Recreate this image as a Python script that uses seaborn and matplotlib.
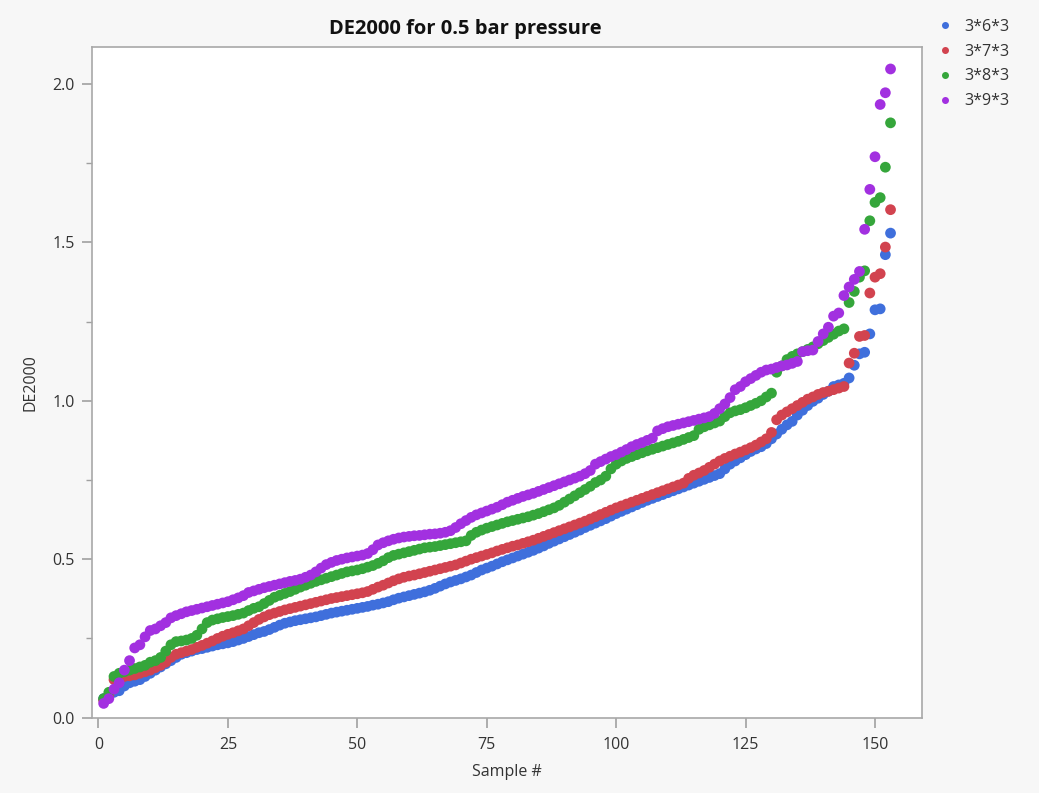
import numpy as np
import pandas as pd
import matplotlib
matplotlib.use("Agg")
import matplotlib.pyplot as plt
import seaborn as sns
from matplotlib.ticker import MultipleLocator

series_names = ["3*6*3", "3*7*3", "3*8*3", "3*9*3"]

de_363 = [0.06, 0.07, 0.08, 0.085, 0.10, 0.11, 0.115, 0.12, 0.13, 0.14,
          0.15, 0.16, 0.17, 0.18, 0.19, 0.20, 0.205, 0.21, 0.215, 0.218,
          0.222, 0.226, 0.23, 0.233, 0.236, 0.24, 0.245, 0.25, 0.256, 0.262,
          0.268, 0.272, 0.278, 0.285, 0.292, 0.298, 0.302, 0.306, 0.309, 0.312,
          0.315, 0.318, 0.322, 0.326, 0.33, 0.333, 0.336, 0.339, 0.342, 0.345,
          0.348, 0.351, 0.355, 0.358, 0.362, 0.366, 0.372, 0.377, 0.381, 0.385,
          0.389, 0.393, 0.397, 0.402, 0.408, 0.415, 0.422, 0.428, 0.433, 0.438,
          0.444, 0.45, 0.458, 0.466, 0.472, 0.478, 0.485, 0.492, 0.498, 0.504,
          0.51, 0.516, 0.522, 0.528, 0.535, 0.542, 0.55, 0.557, 0.564, 0.571,
          0.578, 0.585, 0.592, 0.60, 0.607, 0.614, 0.621, 0.628, 0.636, 0.644,
          0.651, 0.658, 0.665, 0.672, 0.679, 0.686, 0.692, 0.698, 0.704, 0.71,
          0.716, 0.722, 0.728, 0.734, 0.74, 0.746, 0.752, 0.758, 0.764, 0.77,
          0.785, 0.80, 0.81, 0.82, 0.83, 0.84, 0.848, 0.855, 0.865, 0.88,
          0.895, 0.91, 0.924, 0.935, 0.955, 0.97, 0.985, 0.998, 1.008, 1.02,
          1.03, 1.045, 1.05, 1.055, 1.072, 1.112, 1.148, 1.153, 1.211, 1.287,
          1.29, 1.461, 1.529]

de_373 = [0.055, 0.07, 0.12, 0.125, 0.13, 0.132, 0.135, 0.14, 0.145, 0.15,
          0.158, 0.165, 0.175, 0.19, 0.20, 0.205, 0.21, 0.215, 0.222, 0.228,
          0.235, 0.242, 0.25, 0.257, 0.263, 0.268, 0.274, 0.28, 0.29, 0.30,
          0.31, 0.318, 0.325, 0.33, 0.335, 0.34, 0.344, 0.348, 0.352, 0.356,
          0.36, 0.364, 0.368, 0.372, 0.376, 0.379, 0.382, 0.385, 0.388, 0.391,
          0.394, 0.398, 0.405, 0.412, 0.418, 0.425, 0.432, 0.438, 0.443, 0.447,
          0.45, 0.454, 0.458, 0.462, 0.466, 0.47, 0.474, 0.478, 0.482, 0.488,
          0.494, 0.50, 0.505, 0.51, 0.515, 0.52, 0.526, 0.531, 0.536, 0.541,
          0.545, 0.55, 0.555, 0.56, 0.566, 0.572, 0.578, 0.584, 0.59, 0.596,
          0.602, 0.608, 0.614, 0.62, 0.627, 0.634, 0.641, 0.648, 0.655, 0.662,
          0.668, 0.674, 0.68, 0.686, 0.692, 0.698, 0.704, 0.71, 0.716, 0.722,
          0.728, 0.734, 0.74, 0.755, 0.765, 0.772, 0.78, 0.79, 0.80, 0.81,
          0.818, 0.825, 0.832, 0.838, 0.845, 0.852, 0.86, 0.87, 0.88, 0.9,
          0.94, 0.955, 0.965, 0.975, 0.985, 0.995, 1.005, 1.012, 1.02, 1.026,
          1.03, 1.035, 1.04, 1.045, 1.119, 1.150, 1.203, 1.206, 1.340, 1.390,
          1.401, 1.485, 1.603]

de_383 = [0.06, 0.08, 0.13, 0.14, 0.145, 0.15, 0.155, 0.16, 0.165, 0.175,
          0.18, 0.19, 0.21, 0.23, 0.24, 0.242, 0.245, 0.25, 0.26, 0.28,
          0.30, 0.308, 0.312, 0.316, 0.319, 0.322, 0.326, 0.33, 0.338, 0.345,
          0.35, 0.36, 0.37, 0.38, 0.386, 0.392, 0.398, 0.405, 0.412, 0.418,
          0.424, 0.43, 0.435, 0.44, 0.445, 0.45, 0.455, 0.46, 0.463, 0.466,
          0.47, 0.475, 0.48, 0.487, 0.495, 0.505, 0.512, 0.516, 0.52, 0.524,
          0.528, 0.532, 0.536, 0.538, 0.54, 0.543, 0.546, 0.549, 0.552, 0.555,
          0.558, 0.575, 0.585, 0.592, 0.598, 0.603, 0.608, 0.613, 0.618, 0.622,
          0.626, 0.63, 0.634, 0.639, 0.644, 0.65, 0.656, 0.662, 0.67, 0.68,
          0.69, 0.70, 0.71, 0.72, 0.73, 0.742, 0.75, 0.762, 0.785, 0.80,
          0.81, 0.818, 0.824, 0.83, 0.836, 0.842, 0.847, 0.852, 0.857, 0.862,
          0.867, 0.872, 0.878, 0.884, 0.89, 0.91, 0.918, 0.924, 0.93, 0.936,
          0.95, 0.962, 0.968, 0.972, 0.978, 0.985, 0.992, 1.0, 1.012, 1.024,
          1.09, 1.11, 1.13, 1.14, 1.148, 1.155, 1.162, 1.17, 1.18, 1.19,
          1.20, 1.21, 1.22, 1.227, 1.31, 1.345, 1.39, 1.41, 1.568, 1.626,
          1.641, 1.737, 1.877]

de_393 = [0.045, 0.06, 0.09, 0.11, 0.15, 0.18, 0.22, 0.23, 0.255, 0.275,
          0.28, 0.29, 0.30, 0.315, 0.322, 0.328, 0.334, 0.338, 0.342, 0.346,
          0.35, 0.354, 0.358, 0.362, 0.366, 0.372, 0.378, 0.385, 0.395, 0.40,
          0.405, 0.41, 0.414, 0.418, 0.422, 0.426, 0.43, 0.433, 0.437, 0.443,
          0.45, 0.46, 0.472, 0.483, 0.49, 0.496, 0.50, 0.504, 0.507, 0.51,
          0.513, 0.518, 0.53, 0.545, 0.552, 0.558, 0.563, 0.567, 0.57, 0.572,
          0.574, 0.575, 0.577, 0.579, 0.58, 0.582, 0.585, 0.59, 0.60, 0.612,
          0.622, 0.632, 0.64, 0.646, 0.652, 0.658, 0.664, 0.672, 0.68, 0.686,
          0.692, 0.698, 0.703, 0.708, 0.714, 0.72, 0.726, 0.732, 0.738, 0.744,
          0.75, 0.756, 0.762, 0.77, 0.78, 0.80, 0.808, 0.816, 0.824, 0.83,
          0.838, 0.846, 0.855, 0.862, 0.868, 0.875, 0.882, 0.905, 0.912, 0.918,
          0.922, 0.926, 0.93, 0.934, 0.938, 0.942, 0.946, 0.95, 0.96, 0.975,
          0.99, 1.01, 1.035, 1.045, 1.06, 1.07, 1.08, 1.09, 1.097, 1.10,
          1.105, 1.11, 1.113, 1.118, 1.124, 1.155, 1.158, 1.160, 1.187, 1.211,
          1.232, 1.267, 1.277, 1.332, 1.359, 1.383, 1.408, 1.541, 1.667, 1.770,
          1.935, 1.972, 2.047]

colors = ["#3f6fdc", "#d2434f", "#35a63b", "#a230e0"]

samples = list(range(1, len(de_363) + 1))
frames = []
for name, vals in zip(series_names, [de_363, de_373, de_383, de_393]):
    frames.append(pd.DataFrame({"Sample #": samples, "DE2000": vals, "Series": name}))
df = pd.concat(frames, ignore_index=True)

sns.set_theme(style="white")
plt.rcParams["font.family"] = ["Open Sans", "DejaVu Sans"]

fig = plt.figure(figsize=(10.39, 7.93), dpi=100, facecolor="#f7f7f7")
ax = fig.add_axes([0.0883, 0.095, 0.7987, 0.846])
ax.set_facecolor("white")

sns.scatterplot(data=df, x="Sample #", y="DE2000", hue="Series",
                hue_order=series_names, palette=colors, s=60,
                linewidth=0, alpha=1.0, ax=ax, zorder=3)

ax.set_xlim(-1.3, 159)
ax.set_ylim(0, 2.117)
ax.set_xticks([0, 25, 50, 75, 100, 125, 150])
ax.set_yticks([0.0, 0.5, 1.0, 1.5, 2.0])
ax.set_yticklabels(["0.0", "0.5", "1.0", "1.5", "2.0"])
ax.yaxis.set_minor_locator(MultipleLocator(0.25))
ax.tick_params(axis="both", which="major", direction="out", length=7,
               width=1.2, color="#a0a0a0", labelsize=11.5, labelcolor="#333333")
ax.tick_params(axis="y", which="minor", direction="out", length=4,
               width=1.0, color="#a0a0a0", left=True)
ax.tick_params(axis="x", which="major", bottom=True, pad=7)
ax.tick_params(axis="y", which="major", left=True, pad=5)
for sp in ax.spines.values():
    sp.set_color("#a8a8a8")
    sp.set_linewidth(1.2)

ax.set_xlabel("Sample #", fontsize=11.5, color="#333333", labelpad=8)
ax.set_ylabel("DE2000", fontsize=11.5, color="#333333", labelpad=10)
ax.set_title("DE2000 for 0.5 bar pressure", fontsize=14.5, fontweight="bold",
             color="#111111", pad=9, x=0.45)

sns.move_legend(ax, "upper left", bbox_to_anchor=(0.992, 1.063), frameon=False,
                title=None, fontsize=11.5, handletextpad=0.2, labelspacing=0.55,
                markerscale=0.65)
for t in ax.get_legend().get_texts():
    t.set_color("#333333")

fig.savefig("out.png", dpi=100, facecolor=fig.get_facecolor())
